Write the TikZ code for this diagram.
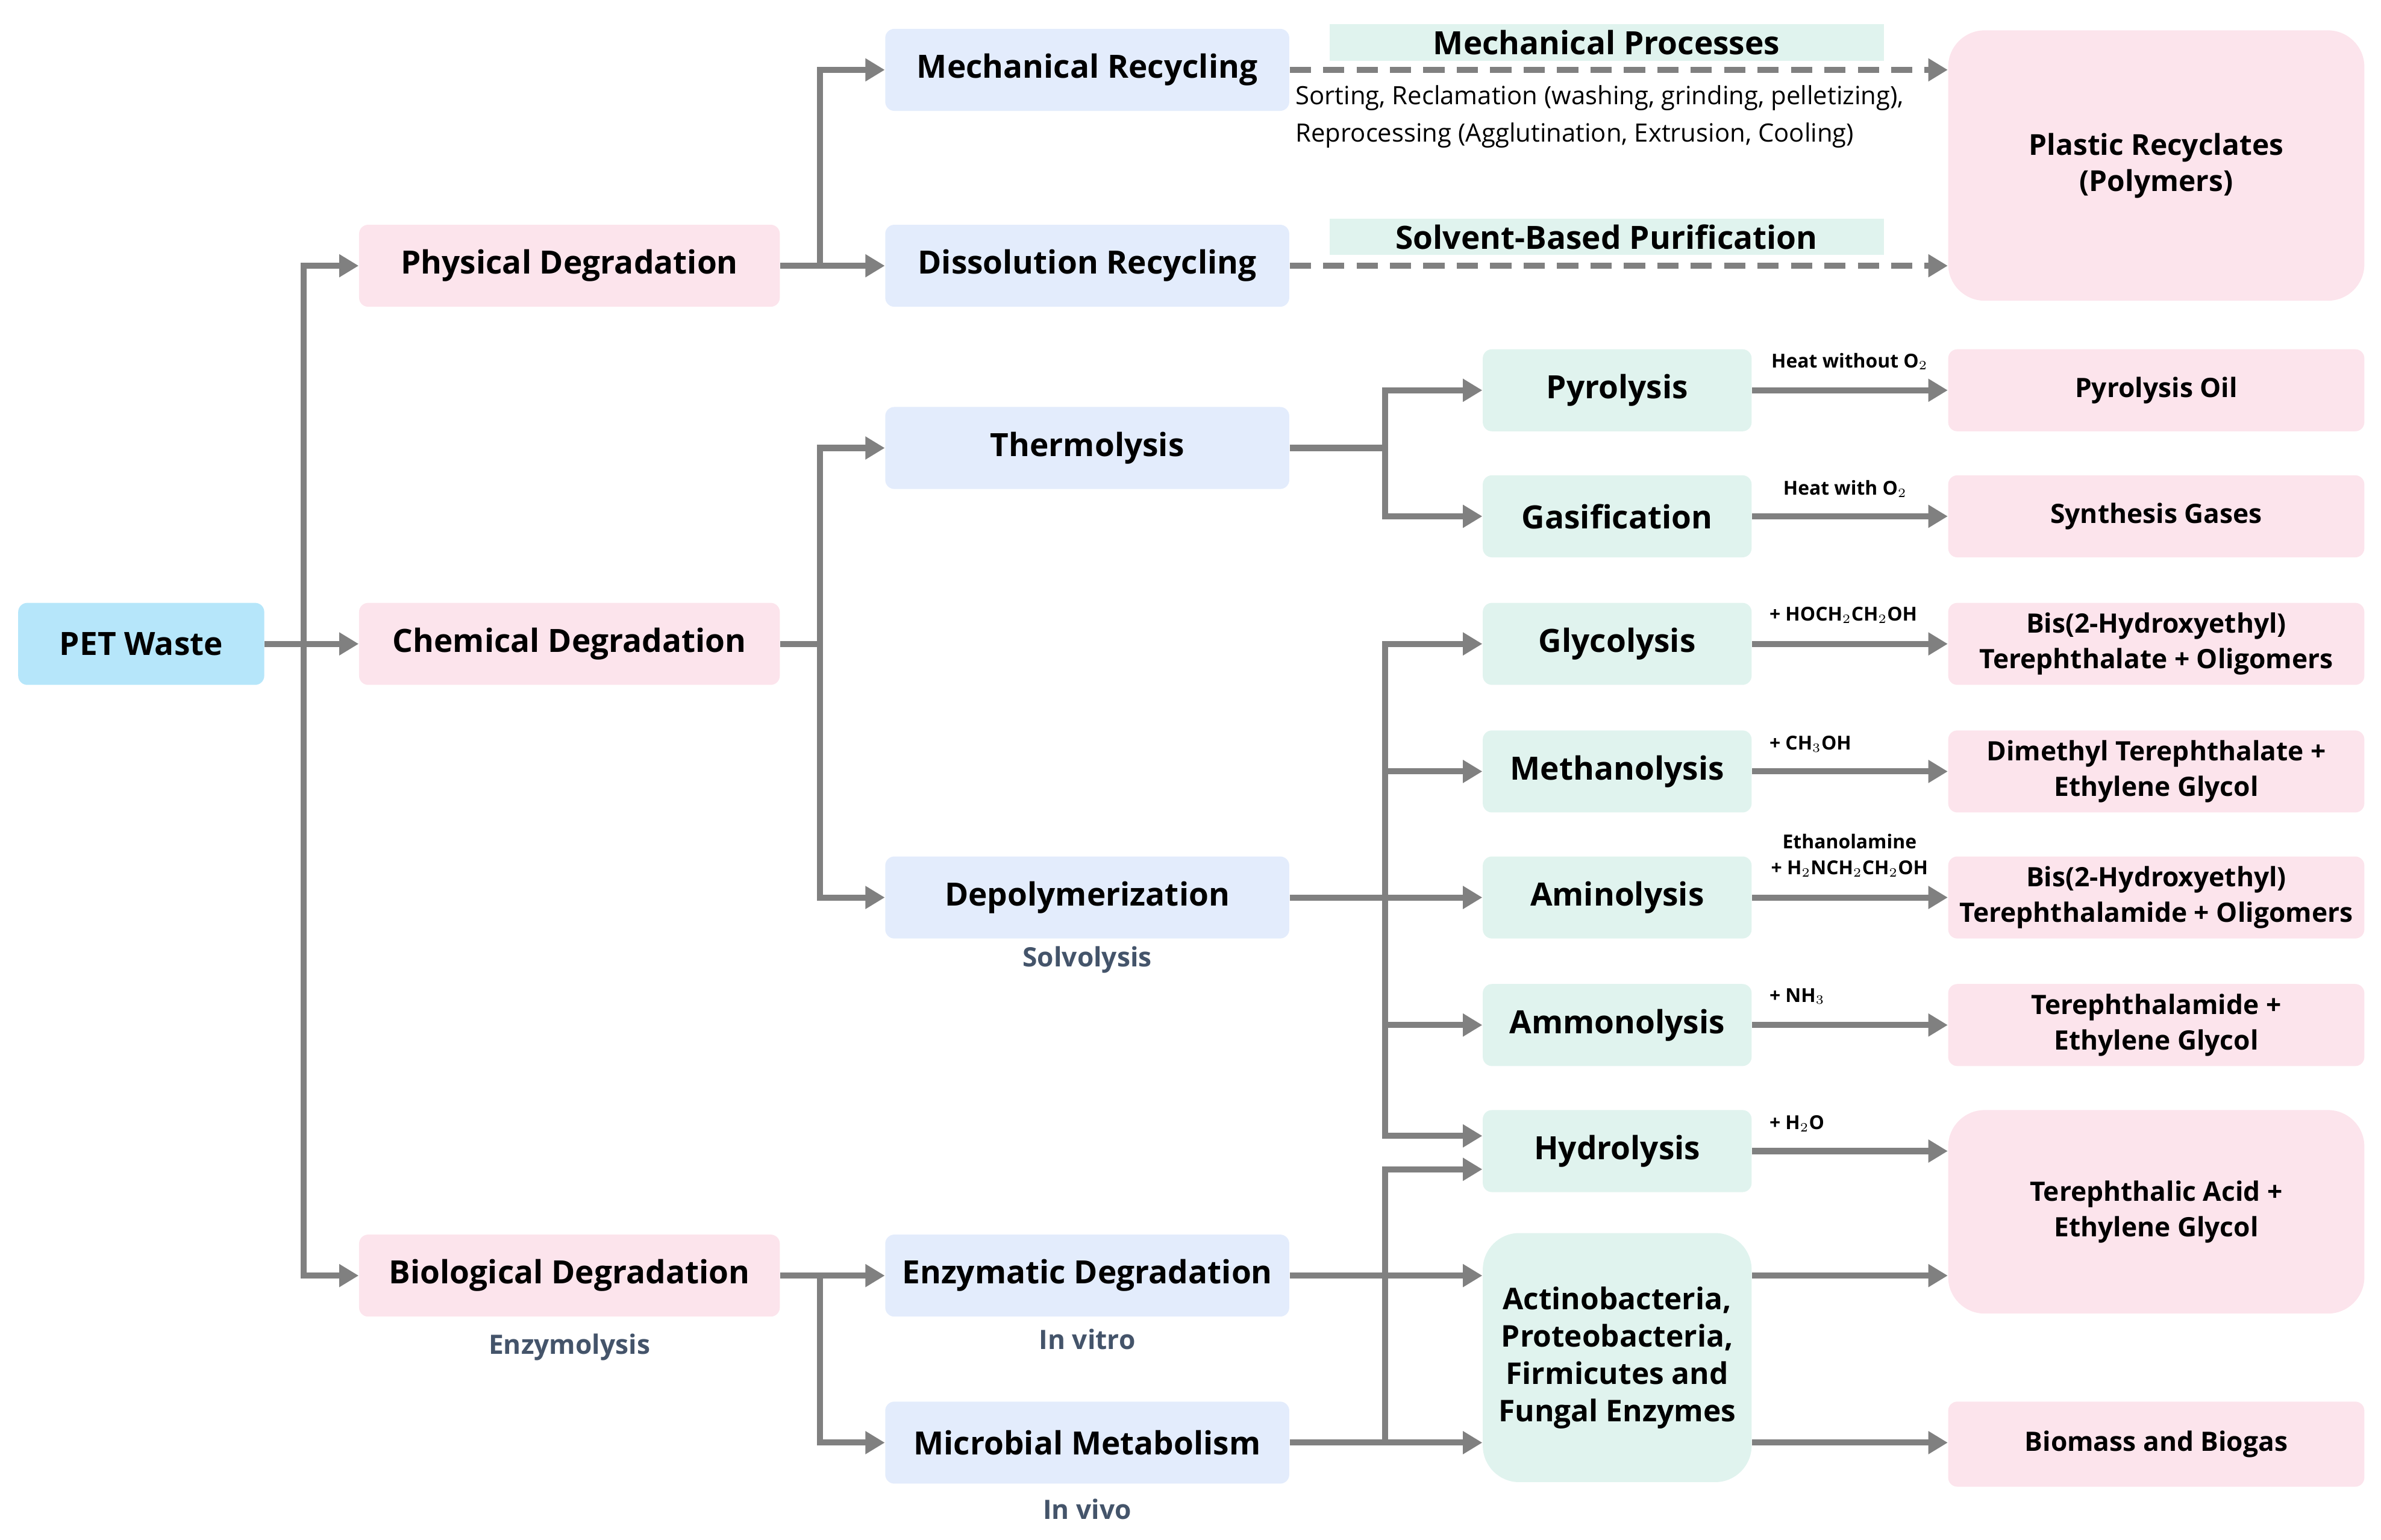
\documentclass[tikz,border=0pt]{standalone}
\usepackage{fontspec}
\setmainfont{Open Sans}
\usetikzlibrary{arrows.meta}
\definecolor{petc}{HTML}{B6E6FA}
\definecolor{pinkc}{HTML}{FCE4EC}
\definecolor{bluec}{HTML}{E3ECFC}
\definecolor{greenc}{HTML}{E0F3EE}
\definecolor{arrc}{HTML}{808080}
\definecolor{subc}{HTML}{44546A}
\begin{document}
\begin{tikzpicture}[x=0.025cm,y=-0.025cm,
  box/.style={rounded corners=0.15cm,align=center,font=\fontsize{15}{18}\selectfont\bfseries,inner sep=2pt},
  pet/.style={box,fill=petc,minimum width=4.05cm,minimum height=1.35cm},
  deg/.style={box,fill=pinkc,minimum width=6.925cm,minimum height=1.35cm},
  proc/.style={box,fill=bluec,minimum width=6.65cm,minimum height=1.35cm},
  meth/.style={box,fill=greenc,minimum width=4.425cm,minimum height=1.35cm},
  prod/.style={box,fill=pinkc,minimum width=6.85cm,minimum height=1.35cm,font=\fontsize{12.5}{16.5}\selectfont\bfseries},
  sub/.style={font=\fontsize{12.5}{14}\selectfont\bfseries,text=subc},
  cond/.style={font=\fontsize{9}{10}\selectfont\bfseries,inner sep=0pt},
  arr/.style={draw=arrc,line width=1mm,-{Triangle[length=3.2mm,width=3.6mm]}},
  dasharr/.style={arr,dash pattern=on 3.5mm off 2mm}]
\useasboundingbox (0,0) rectangle (1568,1014);

% level 0 and 1
\node[pet] (pet) at (93,424) {PET Waste};
\node[deg] (phys) at (375,175) {Physical Degradation};
\node[deg] (chem) at (375,424) {Chemical Degradation};
\node[deg] (bio) at (375,840) {Biological Degradation};
\node[sub] (enzl) at (375,887) {Enzymolysis};

% level 2
\node[proc] (mech) at (716,46) {Mechanical Recycling};
\node[proc] (diss) at (716,175) {Dissolution Recycling};
\node[proc] (therm) at (716,295) {Thermolysis};
\node[proc] (depol) at (716,591) {Depolymerization};
\node[sub] (solv) at (716,632) {Solvolysis};
\node[proc] (enz) at (716,840) {Enzymatic Degradation};
\node[sub] (vitro) at (716,882) {In vitro};
\node[proc] (micro) at (716,950) {Microbial Metabolism};
\node[sub] (vivo) at (716,994) {In vivo};

% level 3
\node[meth] (pyro) at (1065,257) {Pyrolysis};
\node[meth] (gasi) at (1065,340) {Gasification};
\node[meth] (glyc) at (1065,424) {Glycolysis};
\node[meth] (metl) at (1065,508) {Methanolysis};
\node[meth] (amin) at (1065,591) {Aminolysis};
\node[meth] (ammo) at (1065,675) {Ammonolysis};
\node[meth] (hydr) at (1065,758) {Hydrolysis};
\node[meth,minimum height=4.1cm,rounded corners=0.6cm,font=\fontsize{14}{17.5}\selectfont\bfseries] (acti) at (1065,894) {Actinobacteria,\\Proteobacteria,\\Firmicutes and\\Fungal Enzymes};

% products
\node[prod,minimum height=4.45cm,rounded corners=0.6cm,font=\fontsize{13.5}{17}\selectfont\bfseries] (plas) at (1420,109) {Plastic Recyclates\\(Polymers)};
\node[prod] (poil) at (1420,257) {Pyrolysis Oil};
\node[prod] (sgas) at (1420,340) {Synthesis Gases};
\node[prod] (bhet) at (1420,424) {Bis(2-Hydroxyethyl)\\Terephthalate + Oligomers};
\node[prod] (dmt) at (1420,508) {Dimethyl Terephthalate +\\Ethylene Glycol};
\node[prod] (bhta) at (1420,591) {Bis(2-Hydroxyethyl)\\Terephthalamide + Oligomers};
\node[prod] (tpa) at (1420,675) {Terephthalamide +\\Ethylene Glycol};
\node[prod,minimum height=3.35cm,rounded corners=0.6cm] (tpac) at (1420,798) {Terephthalic Acid +\\Ethylene Glycol};
\node[prod,minimum height=1.4cm] (biom) at (1420,951) {Biomass and Biogas};

% process labels
\node[fill=greenc,minimum width=9.125cm,minimum height=0.6cm,inner sep=0pt,font=\fontsize{15}{16}\selectfont\bfseries] (mproc) at (1058,28) {Mechanical Processes};
\node[fill=greenc,minimum width=9.125cm,minimum height=0.6cm,inner sep=0pt,font=\fontsize{15}{16}\selectfont\bfseries] (sproc) at (1058,156) {Solvent-Based Purification};
\node[anchor=west,align=left,inner sep=0pt,font=\fontsize{11.8}{17.5}\selectfont] (sort) at (853,77) {Sorting, Reclamation (washing, grinding, pelletizing),\\Reprocessing (Agglutination, Extrusion, Cooling)};

% spines
\coordinate (s0) at (200,424);
\coordinate (s1) at (540,175);
\coordinate (s2) at (540,424);
\coordinate (s3) at (540,840);
\coordinate (s4) at (912,295);
\coordinate (s5) at (912,591);
\coordinate (s7) at (912,950);

\draw[arr] (pet) -- (chem);
\draw[arr] (s0) |- (phys);
\draw[arr] (s0) |- (bio);
\draw[arr] (phys) -- (diss);
\draw[arr] (s1) |- (mech);
\draw[arr,-] (chem) -- (s2);
\draw[arr] (s2) |- (therm);
\draw[arr] (s2) |- (depol);
\draw[arr] (bio) -- (enz);
\draw[arr] (s3) |- (micro);

\draw[arr,-] (therm) -- (s4);
\draw[arr] (s4) |- (pyro);
\draw[arr] (s4) |- (gasi);
\draw[arr] (depol) -- (amin);
\draw[arr] (s5) |- (glyc);
\draw[arr] (s5) |- (metl);
\draw[arr] (s5) |- (ammo);
\draw[arr] (s5) |- ([yshift=0.25cm]hydr.west);
\draw[arr] (enz) -- (acti.west |- enz);
\draw[arr] (micro) -- (acti.west |- micro);
\draw[arr] (s7) |- ([yshift=-0.3cm]hydr.west);

\draw[dasharr] (mech) -- (plas.west |- mech);
\draw[dasharr] (diss) -- (plas.west |- diss);

\draw[arr] (pyro) -- (poil);
\draw[arr] (gasi) -- (sgas);
\draw[arr] (glyc) -- (bhet);
\draw[arr] (metl) -- (dmt);
\draw[arr] (amin) -- (bhta);
\draw[arr] (ammo) -- (tpa);
\draw[arr] (hydr) -- (tpac.west |- hydr);
\draw[arr] (acti.east |- enz) -- (tpac.west |- enz);
\draw[arr] (acti.east |- micro) -- (biom.west |- micro);

% conditions
\node[cond] (c1) at (1218,238) {Heat without O$_2$};
\node[cond] (c2) at (1215,322) {Heat with O$_2$};
\node[cond,anchor=west] (c3) at (1165,405) {+ HOCH$_2$CH$_2$OH};
\node[cond,anchor=west] (c4) at (1165,490) {+ CH$_3$OH};
\node[cond] (c5) at (1218,554) {Ethanolamine};
\node[cond] (c6) at (1218,572) {+ H$_2$NCH$_2$CH$_2$OH};
\node[cond,anchor=west] (c7) at (1165,656) {+ NH$_3$};
\node[cond,anchor=west] (c8) at (1165,740) {+ H$_2$O};
\end{tikzpicture}
\end{document}
